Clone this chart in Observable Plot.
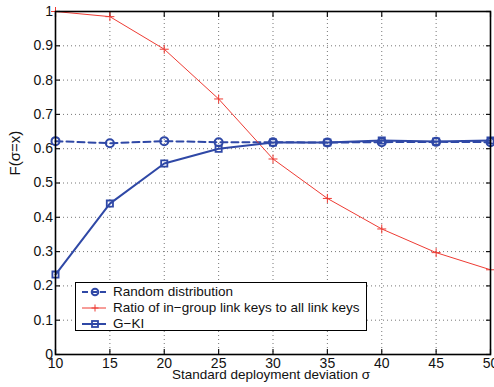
<!DOCTYPE html>
<html><head><meta charset="utf-8">
<script src="https://cdn.jsdelivr.net/npm/d3@7"></script>
<script src="https://cdn.jsdelivr.net/npm/@observablehq/plot@0.6"></script>
<style>
body{margin:0;background:#fff;font-family:"Liberation Sans",Arial,sans-serif;}
#wrap{position:relative;width:494px;height:387px;}
#wrap svg g[aria-label="x-axis tick label"], #wrap svg g[aria-label="y-axis tick label"]{font-size:14px;}
#legend{position:absolute;left:75px;top:282px;width:290px;height:46.5px;border:1.3px solid #000;background:#fff;font-size:13.5px;color:#111;}
#legend .row{position:absolute;left:0;height:16px;display:flex;align-items:center;white-space:nowrap;}
#legend svg{width:36px;height:14px;}
</style>
</head><body>
<div id="wrap"></div>
<script>
const sigma = [10,15,20,25,30,35,40,45,50];
const randomDist = [0.622,0.616,0.622,0.619,0.619,0.618,0.619,0.620,0.619];
const ratioInGroup = [1.0,0.985,0.89,0.745,0.57,0.455,0.366,0.297,0.247];
const gki = [0.233,0.440,0.557,0.600,0.618,0.618,0.624,0.621,0.624];
const xTicks = [10,15,20,25,30,35,40,45,50];
const yTicks = [0,0.1,0.2,0.3,0.4,0.5,0.6,0.7,0.8,0.9,1];
const seriesNames = ["Random distribution","Ratio of in\u2212group link keys to all link keys","G\u2212KI"];
const blue = "#2f48a6", red = "#ee3b33";

const rows = (ys) => sigma.map((x,i)=>({x, y: ys[i]}));
const R = rows(randomDist), Q = rows(ratioInGroup), G = rows(gki);

const grid = {stroke:"#777", strokeOpacity:1, strokeDasharray:"1,3", strokeWidth:1};
const chart = Plot.plot({
  width:494, height:387,
  marginLeft:55, marginRight:4, marginTop:11, marginBottom:33,
  style:{fontFamily:"Liberation Sans, Arial, sans-serif", fontSize:"14px", color:"#111", background:"#fff"},
  x:{domain:[10,50]},
  y:{domain:[0,1]},
  marks:[
    Plot.gridX(xTicks.slice(1,-1), grid),
    Plot.gridY(yTicks.slice(1,-1), grid),
    Plot.axisX(xTicks, {tickSize:-5, tickPadding:9, tickFormat:d=>String(d), label:null, fontSize:14, strokeWidth:1.2}),
    Plot.axisX(xTicks, {anchor:"top", tickSize:-5, tickFormat:()=>"", label:null, strokeWidth:1.2}),
    Plot.axisY(yTicks, {tickSize:-5, tickPadding:7.5, tickFormat:d=>String(d), label:null, fontSize:14, strokeWidth:1.2}),
    Plot.axisY(yTicks, {anchor:"right", tickSize:-5, tickFormat:()=>"", label:null, strokeWidth:1.2}),
    Plot.line(R, {x:"x", y:"y", stroke:blue, strokeWidth:2, strokeDasharray:"7,4"}),
    Plot.dot(R, {x:"x", y:"y", r:4, stroke:blue, strokeWidth:2, fill:"none"}),
    Plot.line(Q, {x:"x", y:"y", stroke:red, strokeWidth:1}),
    Plot.dot(Q, {x:"x", y:"y", symbol:"plus", r:3, stroke:red, strokeWidth:1}),
    Plot.line(G, {x:"x", y:"y", stroke:blue, strokeWidth:2}),
    Plot.dot(G, {x:"x", y:"y", symbol:"square", r:3.5, stroke:blue, strokeWidth:1.8, fill:"none"}),
    Plot.frame({stroke:"#000", strokeWidth:1.6}),
    Plot.text(["Standard deployment deviation \u03c3"], {frameAnchor:"bottom", dy:24.5, dx:-2, fontSize:13.5, fill:"#111"}),
    Plot.text(["F(\u03c3=x)"], {frameAnchor:"left", dx:-40.5, dy:-7.5, rotate:-90, fontSize:15, fill:"#111"})
  ]
});
const wrap = document.getElementById("wrap");
wrap.appendChild(chart);

const legend = document.createElement("div");
legend.id = "legend";
const icons = [
  `<line x1="6" y1="7" x2="30" y2="7" stroke="${blue}" stroke-width="2" stroke-dasharray="6,3"/><circle cx="19" cy="7" r="3.3" fill="none" stroke="${blue}" stroke-width="2"/>`,
  `<line x1="6" y1="7" x2="30" y2="7" stroke="${red}" stroke-width="1"/><path d="M19,3.5V10.5M15.5,7H22.5" stroke="${red}" stroke-width="1"/>`,
  `<line x1="6" y1="7" x2="30" y2="7" stroke="${blue}" stroke-width="2"/><rect x="16" y="4" width="6" height="6" fill="none" stroke="${blue}" stroke-width="1.8"/>`
];
seriesNames.forEach((name,i)=>{
  const row = document.createElement("div");
  row.className = "row";
  row.style.top = (0.5 + i*16) + "px";
  row.innerHTML = `<svg viewBox="0 0 36 14">${icons[i]}</svg><span style="margin-left:1px">${name}</span>`;
  legend.appendChild(row);
});
wrap.appendChild(legend);
</script>
</body></html>
